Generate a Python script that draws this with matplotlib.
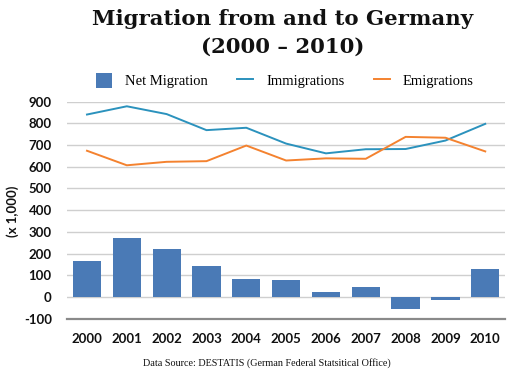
import matplotlib
matplotlib.use("Agg")
import matplotlib.pyplot as plt
from matplotlib.patches import Patch
from matplotlib.lines import Line2D

years = ["2000", "2001", "2002", "2003", "2004", "2005", "2006", "2007", "2008", "2009", "2010"]
net_migration = [167, 273, 220, 143, 83, 79, 23, 44, -56, -13, 128]
immigrations = [841, 879, 843, 769, 780, 707, 662, 681, 682, 721, 798]
emigrations = [674, 607, 623, 626, 698, 629, 639, 637, 738, 734, 671]
yticks = [-100, 0, 100, 200, 300, 400, 500, 600, 700, 800, 900]

bar_color = "#4a7ab6"
imm_color = "#2b92bd"
emi_color = "#f4822f"

fig = plt.figure(figsize=(5.16, 3.74), dpi=100)
ax = fig.add_axes([0.130, 0.148, 0.849, 0.580])

x = list(range(len(years)))
ax.bar(x, net_migration, width=0.71, color=bar_color, zorder=2)
ax.plot(x, immigrations, color=imm_color, lw=1.4, zorder=3)
ax.plot(x, emigrations, color=emi_color, lw=1.4, zorder=3)

ax.set_xlim(-0.5, len(years) - 0.5)
ax.set_ylim(-100, 900)
ax.set_yticks(yticks)
ax.set_yticklabels([str(v) for v in yticks])
ax.set_xticks(x)
ax.set_xticklabels(years)
for yv in yticks[1:]:
    ax.axhline(yv, color="#cfcfcf", lw=1.0, zorder=1)
ax.axhline(-100, color="#8a8a8a", lw=1.6, zorder=1, clip_on=False)

for s in ax.spines.values():
    s.set_visible(False)
ax.tick_params(axis="both", length=0, labelsize=9.5, colors="#111111")
ax.tick_params(axis="x", pad=10)
ax.tick_params(axis="y", pad=11)
for lab in ax.get_xticklabels() + ax.get_yticklabels():
    lab.set_fontfamily("Lato")
    lab.set_fontweight("bold")

fig.text(0.024, 0.436, "(x 1,000)", rotation=90, ha="center", va="center",
         fontsize=9.5, fontfamily="Lato", fontweight="bold", color="#111111")

fig.text(0.548, 0.949, "Migration from and to Germany", ha="center", va="center",
         fontsize=15.3, fontweight="bold", fontfamily="DejaVu Serif", color="#111111")
fig.text(0.548, 0.874, "(2000 \u2013 2010)", ha="center", va="center",
         fontsize=15.3, fontweight="bold", fontfamily="DejaVu Serif", color="#111111")

handles = [Patch(facecolor=bar_color, edgecolor="none"),
           Line2D([0], [0], color=imm_color, lw=1.4),
           Line2D([0], [0], color=emi_color, lw=1.4)]
labels = ["Net Migration", "Immigrations", "Emigrations"]
fig.legend(handles, labels, loc="center", bbox_to_anchor=(0.552, 0.784), ncol=3,
           frameon=False, prop={"family": "Liberation Serif", "size": 10.5},
           handlelength=1.1, handleheight=1.2, columnspacing=2.0, handletextpad=0.9)

fig.text(0.517, 0.030, "Data Source: DESTATIS (German Federal Statsitical Office)",
         ha="center", va="center", fontsize=7.3, fontfamily="Liberation Serif", color="#111111")

fig.savefig("out.png", dpi=100)
